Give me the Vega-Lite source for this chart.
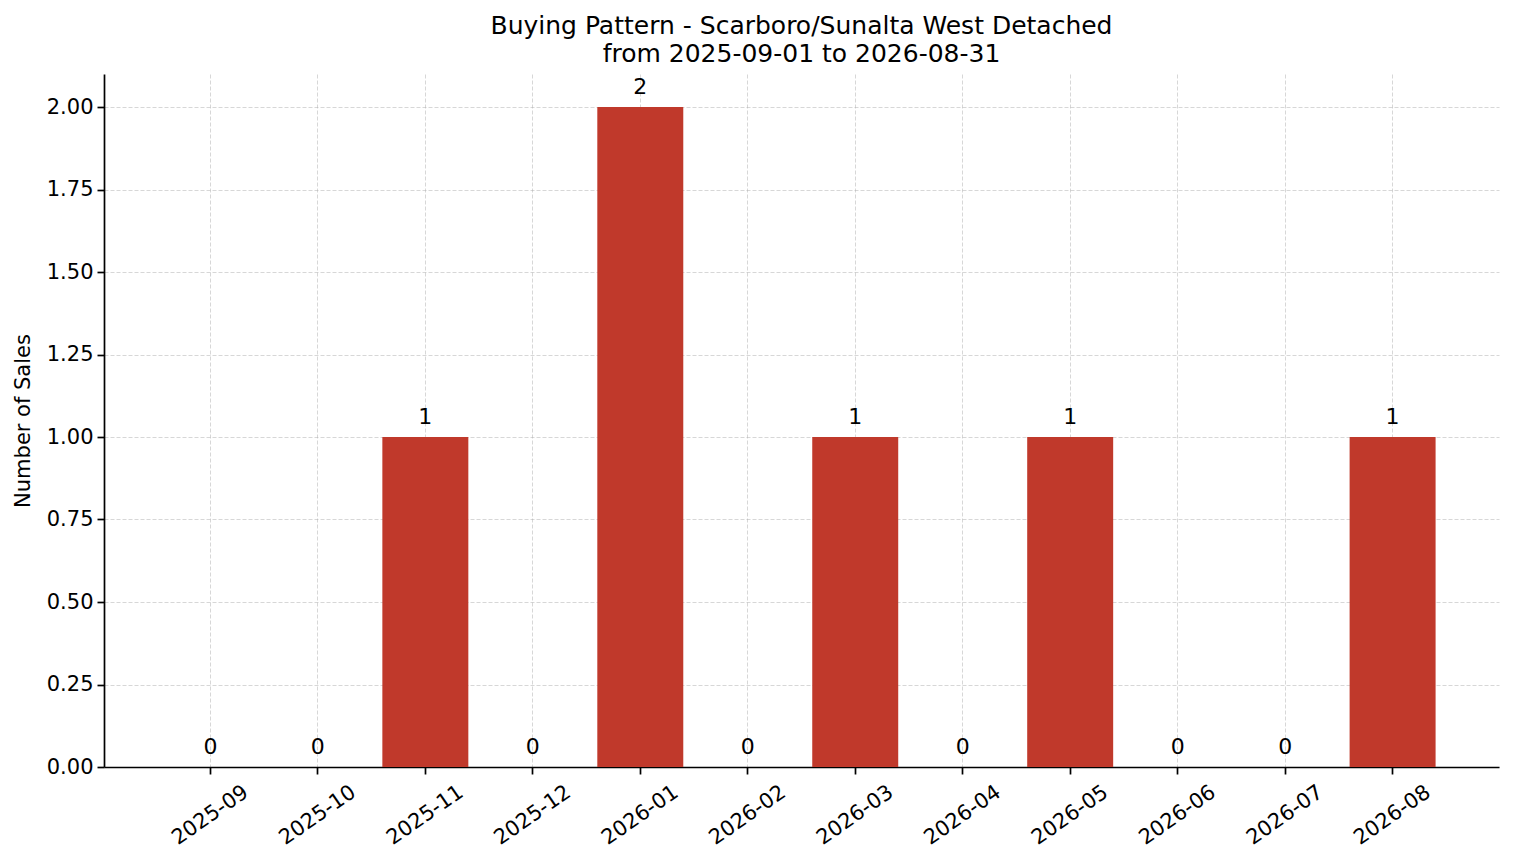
{
  "$schema": "https://vega.github.io/schema/vega-lite/v6.json",
  "autosize": "none",
  "width": 1395,
  "height": 693,
  "padding": {"left": 104, "top": 74, "right": 15, "bottom": 96},
  "background": "white",
  "title": {
    "text": ["Buying Pattern - Scarboro/Sunalta West Detached", "from 2025-09-01 to 2026-08-31"],
    "font": "DejaVu Sans",
    "fontSize": 25,
    "fontWeight": "normal",
    "color": "#000000",
    "lineHeight": 28,
    "offset": 7,
    "anchor": "middle"
  },
  "data": {
    "values": [
      {"month": "2025-09", "sales": 0},
      {"month": "2025-10", "sales": 0},
      {"month": "2025-11", "sales": 1},
      {"month": "2025-12", "sales": 0},
      {"month": "2026-01", "sales": 2},
      {"month": "2026-02", "sales": 0},
      {"month": "2026-03", "sales": 1},
      {"month": "2026-04", "sales": 0},
      {"month": "2026-05", "sales": 1},
      {"month": "2026-06", "sales": 0},
      {"month": "2026-07", "sales": 0},
      {"month": "2026-08", "sales": 1}
    ]
  },
  "encoding": {
    "x": {
      "field": "month",
      "type": "ordinal",
      "sort": null,
      "scale": {"paddingInner": 0.2, "paddingOuter": 0.59},
      "axis": {
        "title": null,
        "labelAngle": -35,
        "labelAlign": "center",
        "labelBaseline": "middle",
        "labelPadding": 41,
        "tickSize": 7,
        "grid": true
      }
    },
    "y": {
      "field": "sales",
      "type": "quantitative",
      "scale": {"domain": [0, 2.1], "nice": false, "zero": true},
      "axis": {
        "title": "Number of Sales",
        "values": [0, 0.25, 0.5, 0.75, 1, 1.25, 1.5, 1.75, 2],
        "format": ".2f",
        "tickSize": 7,
        "labelPadding": 4,
        "titlePadding": 13,
        "grid": true
      }
    }
  },
  "layer": [
    {
      "mark": {"type": "bar", "color": "#c0392b"}
    },
    {
      "mark": {
        "type": "text",
        "baseline": "alphabetic",
        "dy": -13,
        "font": "DejaVu Sans",
        "fontSize": 22,
        "color": "#000000"
      },
      "encoding": {"text": {"field": "sales", "type": "quantitative"}}
    }
  ],
  "config": {
    "view": {"stroke": null},
    "axis": {
      "labelFont": "DejaVu Sans",
      "labelFontSize": 21,
      "labelColor": "#000000",
      "titleFont": "DejaVu Sans",
      "titleFontSize": 21,
      "titleFontWeight": "normal",
      "titleColor": "#000000",
      "domainColor": "#000000",
      "domainWidth": 1.7,
      "tickColor": "#000000",
      "tickWidth": 1.7,
      "gridColor": "#b0b0b0",
      "gridOpacity": 0.5,
      "gridDash": [4, 2],
      "gridWidth": 1,
      "zindex": 1
    }
  }
}
